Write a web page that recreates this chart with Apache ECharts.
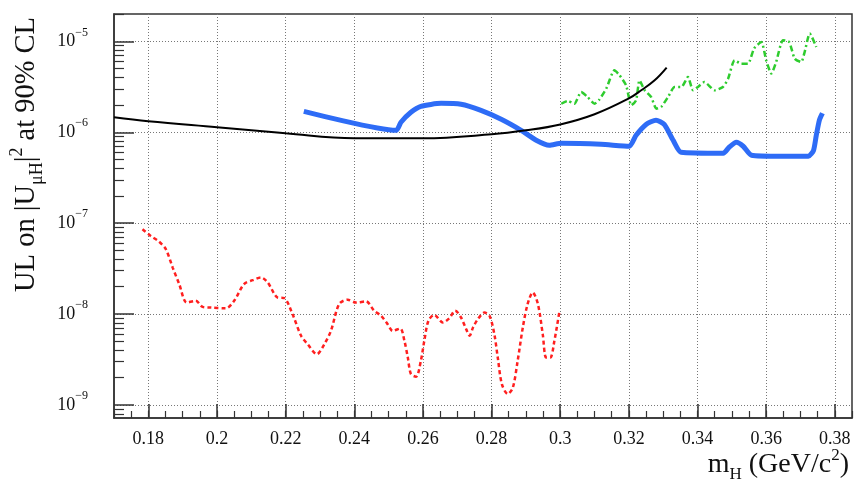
<!DOCTYPE html>
<html>
<head>
<meta charset="utf-8">
<script src="https://cdn.jsdelivr.net/npm/echarts@6/dist/echarts.min.js"></script>
<style>
html, body { margin: 0; padding: 0; background: #fff; }
#chart { width: 857px; height: 481px; }
</style>
</head>
<body>
<div id="chart"></div>
<script>
// tick labels
const xMajorTicks = [0.18, 0.2, 0.22, 0.24, 0.26, 0.28, 0.3, 0.32, 0.34, 0.36, 0.38];
const yMajorTicks = [1e-9, 1e-8, 1e-7, 1e-6, 1e-5];

// black solid curve
const blackX = [0.170, 0.180, 0.200, 0.220, 0.240, 0.260, 0.280, 0.290, 0.300, 0.310, 0.320, 0.3236, 0.3275, 0.331];
const blackY = [1.46e-6, 1.32e-6, 1.135e-6, 9.75e-7, 8.6e-7, 8.6e-7, 9.5e-7, 1.05e-6, 1.22e-6, 1.58e-6, 2.36e-6, 2.9e-6, 3.73e-6, 5.15e-6];

// blue thick curve
const blueX = [0.2253, 0.2522, 0.2536, 0.2565, 0.2594, 0.2653, 0.2711, 0.2769, 0.2828, 0.2886, 0.2930, 0.2968,
    0.3003, 0.3119, 0.3201, 0.3221, 0.3250, 0.3279, 0.3303, 0.3329, 0.3352, 0.3475, 0.3492, 0.3513, 0.3533,
    0.3557, 0.3644, 0.3723, 0.3738, 0.3746, 0.3755, 0.3764];
const blueY = [1.70e-6, 1.05e-6, 1.29e-6, 1.66e-6, 1.93e-6, 2.08e-6, 2.03e-6, 1.74e-6, 1.39e-6, 1.05e-6, 8.17e-7, 7.19e-7,
    7.57e-7, 7.38e-7, 7.02e-7, 9.27e-7, 1.22e-6, 1.36e-6, 1.22e-6, 8.17e-7, 6.03e-7, 5.88e-7, 6.84e-7, 7.76e-7, 7.02e-7,
    5.59e-7, 5.45e-7, 5.45e-7, 6.34e-7, 9.27e-7, 1.36e-6, 1.62e-6];

// red dashed curve
const redX = [0.1783, 0.1807, 0.1831, 0.1851, 0.1871, 0.1890, 0.1912, 0.1938, 0.1958, 0.1982, 0.2026, 0.2050,
    0.2079, 0.2104, 0.2128, 0.2148, 0.2177, 0.2196, 0.2220, 0.2245, 0.2264, 0.2291, 0.2313, 0.2332, 0.2356,
    0.2381, 0.2405, 0.2434, 0.2458, 0.2478, 0.2497, 0.2512, 0.2534, 0.2546, 0.2556, 0.2565, 0.2580, 0.2594,
    0.2604, 0.2616, 0.2633, 0.2658, 0.2677, 0.2694, 0.2711, 0.2726, 0.2736, 0.2746, 0.2760, 0.2779, 0.2794,
    0.2808, 0.2818, 0.2830, 0.2847, 0.2862, 0.2876, 0.2891, 0.2905, 0.2920, 0.2935, 0.2949, 0.2959, 0.2971,
    0.2983, 0.2998];
const redY = [8.59e-8, 7.24e-8, 6.28e-8, 5.18e-8, 3.25e-8, 2.14e-8, 1.34e-8, 1.40e-8, 1.20e-8, 1.18e-8, 1.16e-8, 1.40e-8,
    2.14e-8, 2.36e-8, 2.53e-8, 2.22e-8, 1.52e-8, 1.50e-8, 1.0e-8, 5.78e-9, 4.68e-9, 3.63e-9, 4.68e-9, 6.55e-9, 1.29e-8,
    1.44e-8, 1.34e-8, 1.38e-8, 1.09e-8, 9.58e-9, 7.76e-9, 6.55e-9, 6.95e-9, 5.09e-9, 3.33e-9, 2.19e-9, 2.05e-9, 3.07e-9,
    5.09e-9, 8.44e-9, 9.8e-9, 8.09e-9, 9.04e-9, 1.09e-8, 9.18e-9, 6.84e-9, 5.78e-9, 7.13e-9, 8.81e-9, 1.04e-8, 9.58e-9,
    6.03e-9, 3.33e-9, 1.70e-9, 1.32e-9, 1.56e-9, 3.07e-9, 7.13e-9, 1.29e-8, 1.73e-8, 1.29e-8, 6.03e-9, 3.33e-9, 3.33e-9,
    5.09e-9, 1.09e-8];

// green dash-dot curve
const greenX = [0.3003, 0.3022, 0.3041, 0.3061, 0.3080, 0.3100, 0.3114, 0.3134, 0.3158, 0.3173, 0.3192, 0.3207,
    0.3221, 0.3231, 0.3246, 0.3265, 0.3280, 0.3294, 0.3314, 0.3333, 0.3353, 0.3372, 0.3387, 0.3401, 0.3420,
    0.3450, 0.3474, 0.3489, 0.3508, 0.3527, 0.3547, 0.3565, 0.3586, 0.3600, 0.3615, 0.3629, 0.3649, 0.3667,
    0.3683, 0.3702, 0.3712, 0.3727, 0.3746];
const greenY = [2.06e-6, 2.21e-6, 2.06e-6, 2.77e-6, 2.44e-6, 2.06e-6, 2.29e-6, 3.02e-6, 4.80e-6, 4.23e-6, 3.28e-6, 1.98e-6,
    2.25e-6, 3.73e-6, 2.90e-6, 2.44e-6, 1.82e-6, 1.90e-6, 2.44e-6, 3.15e-6, 3.15e-6, 4.05e-6, 2.90e-6, 3.15e-6, 3.57e-6,
    2.90e-6, 3.15e-6, 3.89e-6, 6.18e-6, 5.69e-6, 5.69e-6, 8.38e-6, 9.83e-6, 6.18e-6, 4.42e-6, 5.93e-6, 1.03e-5, 9.83e-6,
    6.46e-6, 5.93e-6, 7.63e-6, 1.22e-5, 8.66e-6];

function pairs(xs, ys) {
    return xs.map((x, i) => [x, ys[i]]);
}

// minor ticks (decoration only)
let xMinorTicks = [];
for (let i = 34; i <= 77; i++) {
    xMinorTicks.push(+(i * 0.005).toFixed(3));
}
let yMinorTicks = [];
for (let d = -10; d <= -5; d++) {
    for (let k = 2; k <= 9; k++) {
        yMinorTicks.push(k * Math.pow(10, d));
    }
}

const font = 'Liberation Serif';
const gridLine = { show: true, lineStyle: { color: '#777', width: 1, type: [1, 2] } };

let chart = echarts.init(document.getElementById('chart'), null, { renderer: 'canvas' });
chart.setOption({
    animation: false,
    backgroundColor: '#fff',
    grid: {
        left: 114,
        right: 5,
        top: 14,
        bottom: 63,
        show: true,
        borderColor: '#333',
        borderWidth: 1.5,
        backgroundColor: 'transparent'
    },
    xAxis: [
        {
            type: 'value',
            position: 'bottom',
            min: 0.17,
            max: 0.385,
            axisLine: { show: true, onZero: false, lineStyle: { color: '#333', width: 1.5 } },
            axisTick: { show: true, inside: true, length: 14, customValues: xMajorTicks, lineStyle: { color: '#333', width: 1.5 } },
            axisLabel: {
                customValues: xMajorTicks,
                margin: 12,
                color: '#111',
                fontFamily: font,
                fontSize: 18,
                formatter: v => String(+v.toFixed(3))
            },
            splitLine: gridLine
        },
        {
            type: 'value',
            position: 'bottom',
            min: 0.17,
            max: 0.385,
            axisLine: { show: false },
            axisTick: { show: true, inside: true, length: 7, customValues: xMinorTicks, lineStyle: { color: '#333', width: 1.2 } },
            axisLabel: { show: false },
            splitLine: { show: false }
        }
    ],
    yAxis: [
        {
            type: 'log',
            logBase: 10,
            position: 'left',
            min: 7.2e-10,
            max: 2e-5,
            axisLine: { show: true, onZero: false, lineStyle: { color: '#333', width: 1.5 } },
            axisTick: { show: true, inside: true, length: 20, customValues: yMajorTicks, lineStyle: { color: '#333', width: 1.5 } },
            axisLabel: {
                customValues: yMajorTicks,
                margin: 26,
                color: '#111',
                fontFamily: font,
                formatter: v => '{b|10}{e|\u2212' + Math.abs(Math.round(Math.log10(v))) + '}',
                rich: {
                    b: { fontFamily: font, fontSize: 18, color: '#111', padding: [6, 0, 6, 0] },
                    e: { fontFamily: font, fontSize: 12, color: '#111', verticalAlign: 'top', lineHeight: 12 }
                }
            },
            splitLine: gridLine
        },
        {
            type: 'log',
            logBase: 10,
            position: 'left',
            min: 7.2e-10,
            max: 2e-5,
            axisLine: { show: false },
            axisTick: { show: true, inside: true, length: 10, customValues: yMinorTicks, lineStyle: { color: '#333', width: 1.2 } },
            axisLabel: { show: false },
            splitLine: { show: false }
        }
    ],
    graphic: [
        {
            type: 'text',
            x: 27,
            y: 17,
            rotation: Math.PI / 2,
            style: {
                text: 'UL on |U{s|\u03bcH}|{p|2} at 90% CL',
                fontFamily: font,
                fontSize: 28.5,
                lineHeight: 38,
                fill: '#111',
                align: 'right',
                verticalAlign: 'middle',
                rich: {
                    s: { fontFamily: font, fontSize: 18, lineHeight: 18, verticalAlign: 'bottom', fill: '#111' },
                    p: { fontFamily: font, fontSize: 18, lineHeight: 18, verticalAlign: 'top', fill: '#111' }
                }
            }
        },
        {
            type: 'text',
            x: 849,
            y: 465,
            style: {
                text: 'm{s|H} (GeV/c{p|2})',
                fontFamily: font,
                fontSize: 28,
                lineHeight: 36,
                fill: '#111',
                align: 'right',
                verticalAlign: 'middle',
                rich: {
                    s: { fontFamily: font, fontSize: 17, lineHeight: 17, verticalAlign: 'bottom', fill: '#111' },
                    p: { fontFamily: font, fontSize: 17, lineHeight: 17, verticalAlign: 'top', fill: '#111' }
                }
            }
        }
    ],
    series: [
        {
            name: 'blue',
            type: 'line',
            data: pairs(blueX, blueY),
            symbol: 'none',
            smooth: 0.2,
            lineStyle: { color: '#2e6cf6', width: 5 }
        },
        {
            name: 'red',
            type: 'line',
            data: pairs(redX, redY),
            symbol: 'none',
            smooth: 0.3,
            lineStyle: { color: '#ff1f1f', width: 2.5, type: [4, 3] }
        },
        {
            name: 'green',
            type: 'line',
            data: pairs(greenX, greenY),
            symbol: 'none',
            smooth: 0.2,
            lineStyle: { color: '#2ecc2e', width: 2.5, type: [6, 3, 2, 3] }
        },
        {
            name: 'black',
            type: 'line',
            data: pairs(blackX, blackY),
            symbol: 'none',
            smooth: 0.4,
            lineStyle: { color: '#000', width: 2 }
        }
    ]
});
</script>
</body>
</html>
